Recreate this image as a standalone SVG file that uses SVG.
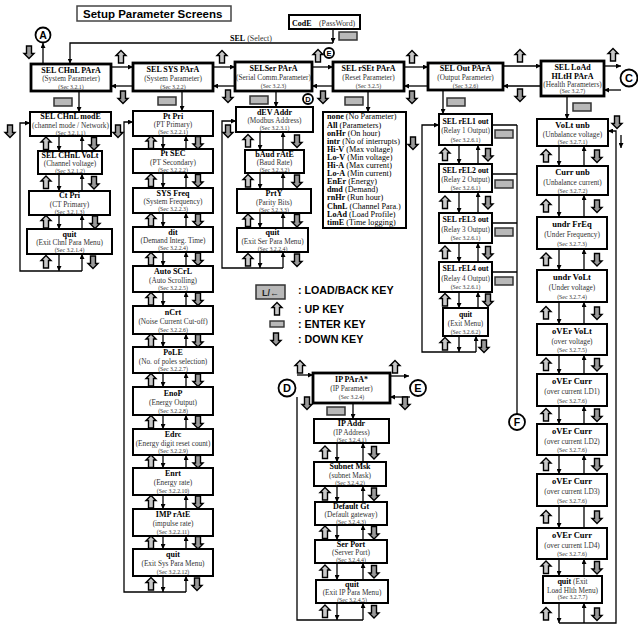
<svg xmlns="http://www.w3.org/2000/svg" width="638" height="625" viewBox="0 0 638 625">
<style>
.m{fill:#fff;stroke:#000;stroke-width:2.8}
.b{fill:#fff;stroke:#000;stroke-width:2}
text{font-family:"Liberation Serif","Times New Roman",serif}
.t{font-weight:bold;font-size:8px;text-anchor:middle}
.tt{font-weight:bold;font-size:8px;text-anchor:middle}
.s{font-size:7.3px;fill:#333;text-anchor:middle}
.c{font-size:5.8px;fill:#333;text-anchor:middle}
.ln{fill:none;stroke:#000;stroke-width:1.3}
.a{marker-end:url(#ah)}
.h{font-family:"Liberation Sans",Arial,sans-serif;font-weight:bold}
.r{font-size:7.3px}
.cir{fill:#fff;stroke:#000;stroke-width:1.8}
.o5 .t{font-size:7.7px}.o5 .s{font-size:7.2px}
.l6 .t{font-size:8.5px}
</style>
<defs>
<marker id="ah" viewBox="0 0 10 10" refX="10" refY="5" markerWidth="5" markerHeight="5" markerUnits="userSpaceOnUse" orient="auto"><path d="M0,0L10,5L0,10z" fill="#000"/></marker>
<path id="up" d="M0,-6.5L5,-1.5H2.5V6H-2.5V-1.5H-5Z" fill="#c8c8c8" stroke="#000" stroke-width="1.4"/>
<path id="dn" d="M0,6.5L5,1.5H2.5V-6H-2.5V1.5H-5Z" fill="#9a9a9a" stroke="#000" stroke-width="1.4"/>
<rect id="en" x="-9" y="-4" width="18" height="8" fill="#b8b8b8" stroke="#333" stroke-width="1.5"/>
</defs>
<rect width="638" height="625" fill="#fff"/>

<g id="title">
<rect x="77" y="6" width="154" height="15" fill="#fff" stroke="#444" stroke-width="1.5"/>
<text class="h" x="83" y="18" font-size="11.5">Setup Parameter Screens</text>
</g>

<g id="n-code">
<rect class="b" x="289" y="15" width="71" height="14"/>
<text x="292" y="25.5" font-size="8" font-weight="bold">CodE</text>
<text x="319" y="25.5" font-size="7.8" fill="#333">(PassWord)</text>
</g>
<text x="230" y="40.5" font-size="8"><tspan font-weight="bold">SEL</tspan> <tspan fill="#333">(Select)</tspan></text>

<g id="circles">
<circle class="cir" cx="43" cy="35" r="7.5"/><text class="h" x="43" y="39" font-size="10.5" text-anchor="middle">A</text>
<circle class="cir" cx="629" cy="78" r="8.5"/><text class="h" x="629" y="82" font-size="11" text-anchor="middle">C</text>
<circle class="cir" cx="329" cy="53" r="5" stroke-width="1.4"/><text class="h" x="329" y="55.8" font-size="7.5" text-anchor="middle">E</text>
<circle class="cir" cx="308" cy="99" r="5" stroke-width="1.4"/><text class="h" x="308" y="101.8" font-size="7.5" text-anchor="middle">D</text>
<circle class="cir" cx="287" cy="388" r="8.5"/><text class="h" x="287" y="392" font-size="11" text-anchor="middle">D</text>
<circle class="cir" cx="418" cy="388" r="8"/><text class="h" x="418" y="392" font-size="11" text-anchor="middle">E</text>
<circle class="cir" cx="517" cy="422" r="8"/><text class="h" x="517" y="426" font-size="10.5" text-anchor="middle">F</text>
</g>

<g id="top-row">
<g id="n-chnl"><rect class="m" x="31" y="64" width="80" height="27"/><text class="tt" x="71" y="72.5" font-size="7.6">SEL CHnL PArA</text><text class="s" x="71" y="81.3">(System Parameter)</text><text class="c" x="71" y="88.8">(Sec 3.2.1)</text></g>
<g id="n-sys"><rect class="m" x="133" y="63" width="80" height="28"/><text class="tt" x="173" y="71.6">SEL SYS PArA</text><text class="s" x="173" y="80.8">(System Parameter)</text><text class="c" x="173" y="88.5">(Sec 3.2.2)</text></g>
<g id="n-ser"><rect class="m" x="235" y="62" width="77" height="29"/><text class="tt" x="273.5" y="70.9">SELSer PArA</text><text class="s" x="273.5" y="80.3" font-size="7.1">(Serial Comm.Parameter)</text><text class="c" x="273.5" y="88.2">(Sec 3.2.3)</text></g>
<g id="n-rset"><rect class="m" x="333" y="62" width="71" height="29"/><text class="tt" x="368.5" y="70.9" font-size="7.6">SEL rSEt PArA</text><text class="s" x="368.5" y="80.3">(Reset Parameter)</text><text class="c" x="368.5" y="88.2">(Sec 3.2.5)</text></g>
<g id="n-out"><rect class="m" x="428" y="63" width="75" height="27"/><text class="tt" x="465.5" y="71.3">SEL Out PArA</text><text class="s" x="465.5" y="80.3">(Output Parameter)</text><text class="c" x="465.5" y="87.8">(Sec 3.2.6)</text></g>
<g id="n-load"><rect class="m" x="541" y="61" width="63" height="35"/><text class="tt" x="572.5" y="69.5" font-size="8.2">SEL LoAd</text><text class="tt" x="572.5" y="78.6" font-size="8.2">HLtH PArA</text><text class="s" x="572.5" y="86.5" font-size="6.8">(Health Parameters)</text><text class="c" x="572.5" y="93.3">(Sec 3.2.7)</text></g>
</g>

<g id="col-chnl">
<g id="n-modE"><rect class="b" x="30" y="112" width="81" height="24"/><text class="t" x="70.5" y="119.4">SEL CHnL modE</text><text class="s" x="70.5" y="127.8" font-size="7.2">(channel mode / Network)</text><text class="c" x="70.5" y="134.7">(Sec 3.2.1.1)</text></g>
<g id="n-chvolt"><rect class="b" x="38" y="151" width="64" height="23"/><text class="t" x="70" y="158.1" font-size="7.5">SEL CHnL VoLt</text><text class="s" x="70" y="166.3">(Channel voltage)</text><text class="c" x="70" y="173">(Sec 3.2.1.2)</text></g>
<g id="n-ctpri"><rect class="b" x="29" y="191" width="81" height="24"/><text class="t" x="69.5" y="198.4">Ct Pri</text><text class="s" x="69.5" y="206.8">(CT Primary)</text><text class="c" x="69.5" y="213.7">(Sec 3.2.1.3)</text></g>
<g id="n-quit1"><rect class="b" x="27" y="229" width="85" height="25"/><text class="t" x="69.5" y="236.7">quit</text><text class="s" x="69.5" y="245.3">(Exit Chnl Para Menu)</text><text class="c" x="69.5" y="252.4">(Sec 3.2.1.4)</text></g>
</g>

<g id="col-sys">
<g id="n-ptpri"><rect class="b" x="133" y="111" width="80" height="25"/><text class="t" x="173" y="118.7">Pt Pri</text><text class="s" x="173" y="127.3">(PT Primary)</text><text class="c" x="173" y="134.4">(Sec 3.2.2.1)</text></g>
<g id="n-ptsec"><rect class="b" x="133" y="149" width="80" height="24"/><text class="t" x="173" y="156.4">Pt SEC</text><text class="s" x="173" y="164.8">(PT Secondary)</text><text class="c" x="173" y="171.7">(Sec 3.2.2.2)</text></g>
<g id="n-sysfreq"><rect class="b" x="133" y="188" width="80" height="25"/><text class="t" x="173" y="195.7">SYS Freq</text><text class="s" x="173" y="204.3">(System Frequency)</text><text class="c" x="173" y="211.4">(Sec 3.2.2.3)</text></g>
<g id="n-dit"><rect class="b" x="133" y="227" width="80" height="25"/><text class="t" x="173" y="234.7">dit</text><text class="s" x="173" y="243.3">(Demand Integ. Time)</text><text class="c" x="173" y="250.4">(Sec 3.2.2.4)</text></g>
<g id="n-auto"><rect class="b" x="133" y="266" width="80" height="26"/><text class="t" x="173" y="274">Auto SCrL</text><text class="s" x="173" y="282.8">(Auto Scrolling)</text><text class="c" x="173" y="290.1">(Sec 3.2.2.5)</text></g>
<g id="n-ncrt"><rect class="b" x="133" y="306" width="80" height="28"/><text class="t" x="173" y="314.6">nCrt</text><text class="s" x="173" y="323.8">(Noise Current Cut-off)</text><text class="c" x="173" y="331.5">(Sec 3.2.2.6)</text></g>
<g id="n-pole"><rect class="b" x="133" y="347" width="80" height="26"/><text class="t" x="173" y="355">PoLE</text><text class="s" x="173" y="363.8">(No. of poles selection)</text><text class="c" x="173" y="371.1">(Sec 3.2.2.7)</text></g>
<g id="n-enop"><rect class="b" x="133" y="387" width="80" height="28"/><text class="t" x="173" y="395.6">EnoP</text><text class="s" x="173" y="404.8">(Energy Output)</text><text class="c" x="173" y="412.5">(Sec 3.2.2.8)</text></g>
<g id="n-edrc"><rect class="b" x="133" y="429" width="80" height="26"/><text class="t" x="173" y="437">Edrc</text><text class="s" x="173" y="445.8">(Energy digit reset count)</text><text class="c" x="173" y="453.1">(Sec 3.2.2.9)</text></g>
<g id="n-enrt"><rect class="b" x="133" y="468" width="80" height="27"/><text class="t" x="173" y="476.3">Enrt</text><text class="s" x="173" y="485.3">(Energy rate)</text><text class="c" x="173" y="492.8">(Sec 3.2.2.10)</text></g>
<g id="n-imp"><rect class="b" x="133" y="509" width="80" height="27"/><text class="t" x="173" y="517.3">IMP rAtE</text><text class="s" x="173" y="526.3">(impulse rate)</text><text class="c" x="173" y="533.8">(Sec 3.2.2.11)</text></g>
<g id="n-quit2"><rect class="b" x="133" y="549" width="80" height="27"/><text class="t" x="173" y="557.3">quit</text><text class="s" x="173" y="566.3">(Exit Sys Para Menu)</text><text class="c" x="173" y="573.8">(Sec 3.2.2.12)</text></g>
</g>

<g id="col-ser">
<g id="n-dev"><rect class="b" x="236" y="107" width="77" height="25"/><text class="t" x="274.5" y="114.7">dEV Addr</text><text class="s" x="274.5" y="123.3">(Modbus Address)</text><text class="c" x="274.5" y="130.4">(Sec 3.2.3.1)</text></g>
<g id="n-baud"><rect class="b" x="245" y="150" width="59" height="23"/><text class="t" x="274.5" y="157.1">bAud rAtE</text><text class="s" x="274.5" y="165.3">(Baud Rate)</text><text class="c" x="274.5" y="172">(Sec 3.2.3.2)</text></g>
<g id="n-prty"><rect class="b" x="237" y="189" width="74" height="24"/><text class="t" x="274" y="196.4">PrtY</text><text class="s" x="274" y="204.8">(Parity Bits)</text><text class="c" x="274" y="211.7">(Sec 3.2.3.3)</text></g>
<g id="n-quit3"><rect class="b" x="237" y="228" width="71" height="24"/><text class="t" x="272.5" y="235.4">quit</text><text class="s" x="272.5" y="243.8">(Exit Ser Para Menu)</text><text class="c" x="272.5" y="250.7">(Sec 3.2.2.4)</text></g>
</g>

<g id="n-resetlist">
<rect class="b" x="323" y="112" width="83" height="116"/>
<g class="r" transform="translate(327,0) scale(1.12,1)">
<text x="0" y="119.5"><tspan font-weight="bold">none</tspan> (No Parameter)</text>
<text x="0" y="127.6"><tspan font-weight="bold">All</tspan> (Parameters)</text>
<text x="0" y="135.7"><tspan font-weight="bold">onHr</tspan> (On hour)</text>
<text x="0" y="143.8"><tspan font-weight="bold">intr</tspan> (No of interrupts)</text>
<text x="0" y="151.9"><tspan font-weight="bold">Hi-V</tspan> (Max voltage)</text>
<text x="0" y="160"><tspan font-weight="bold">Lo-V</tspan> (Min voltage)</text>
<text x="0" y="168.1"><tspan font-weight="bold">Hi-A</tspan> (Max current)</text>
<text x="0" y="176.2"><tspan font-weight="bold">Lo-A</tspan> (Min current)</text>
<text x="0" y="184.3"><tspan font-weight="bold">EnEr</tspan> (Energy)</text>
<text x="0" y="192.4"><tspan font-weight="bold">dmd</tspan> (Demand)</text>
<text x="0" y="200.5"><tspan font-weight="bold">rnHr</tspan> (Run hour)</text>
<text x="0" y="208.6"><tspan font-weight="bold">ChnL</tspan> (Channel Para.)</text>
<text x="0" y="216.7"><tspan font-weight="bold">LoAd</tspan> (Load Profile)</text>
<text x="0" y="224.8"><tspan font-weight="bold">timE</tspan> (Time logging)</text>
</g>
</g>

<g id="col-out" class="o5">
<g id="n-rel1"><rect class="b" x="439" y="114" width="53" height="31"/><text class="t" x="465.5" y="123.5">SEL rEL1 out</text><text class="s" x="465.5" y="133.3">(Relay 1 Output)</text><text class="c" x="465.5" y="141.6">(Sec 3.2.6.1)</text></g>
<g id="n-rel2"><rect class="b" x="439" y="164" width="53" height="28"/><text class="t" x="465.5" y="172.6">SEL rEL2 out</text><text class="s" x="465.5" y="181.8">(Relay 2 Output)</text><text class="c" x="465.5" y="189.5">(Sec 3.2.6.1)</text></g>
<g id="n-rel3"><rect class="b" x="439" y="213" width="53" height="30"/><text class="t" x="465.5" y="222.2">SEL rEL3 out</text><text class="s" x="465.5" y="231.8">(Relay 3 Output)</text><text class="c" x="465.5" y="239.9">(Sec 3.2.6.1)</text></g>
<g id="n-rel4"><rect class="b" x="439" y="262" width="53" height="30"/><text class="t" x="465.5" y="271.2">SEL rEL4 out</text><text class="s" x="465.5" y="280.8">(Relay 4 Output)</text><text class="c" x="465.5" y="288.9">(Sec 3.2.6.1)</text></g>
<g id="n-quit5"><rect class="b" x="443" y="308" width="45" height="28"/><text class="t" x="465.5" y="316.6">quit</text><text class="s" x="465.5" y="325.8">(Exit Menu)</text><text class="c" x="465.5" y="333.5">(Sec 3.2.6.2)</text></g>
</g>

<g id="col-load" class="l6">
<g id="n-vunb"><rect class="b" x="537" y="119" width="71" height="27"/><text class="t" x="572.5" y="127.7">VoLt unb</text><text class="s" x="572.5" y="136.8">(Unbalance voltage)</text><text class="c" x="572.5" y="144.3">(Sec 3.2.7.1)</text></g>
<g id="n-cunb"><rect class="b" x="537" y="166" width="71" height="29"/><text class="t" x="572.5" y="175.3">Curr unb</text><text class="s" x="572.5" y="184.8">(Unbalance current)</text><text class="c" x="572.5" y="192.7">(Sec 3.2.7.2)</text></g>
<g id="n-ufreq"><rect class="b" x="537" y="217" width="70" height="32"/><text class="t" x="572" y="227.2">undr FrEq</text><text class="s" x="572" y="237.3">(Under Frequency)</text><text class="c" x="572" y="245.8">(Sec 3.2.7.3)</text></g>
<g id="n-uvolt"><rect class="b" x="537" y="270" width="70" height="32"/><text class="t" x="572" y="280.2">undr VoLt</text><text class="s" x="572" y="290.3">(Under voltage)</text><text class="c" x="572" y="298.8">(Sec 3.2.7.4)</text></g>
<g id="n-ovolt"><rect class="b" x="537" y="324" width="70" height="31"/><text class="t" x="572" y="333.9">oVEr VoLt</text><text class="s" x="572" y="343.8">(over voltage)</text><text class="c" x="572" y="352.1">(Sec 3.2.7.5)</text></g>
<g id="n-oc1"><rect class="b" x="537" y="374" width="70" height="32"/><text class="t" x="572" y="384.2">oVEr Curr</text><text class="s" x="572" y="394.3">(over current LD1)</text><text class="c" x="572" y="402.8">(Sec 3.2.7.6)</text></g>
<g id="n-oc2"><rect class="b" x="537" y="424" width="70" height="31"/><text class="t" x="572" y="433.9">oVEr Curr</text><text class="s" x="572" y="443.8">(over current LD2)</text><text class="c" x="572" y="452.1">(Sec 3.2.7.6)</text></g>
<g id="n-oc3"><rect class="b" x="537" y="474" width="70" height="32"/><text class="t" x="572" y="484.2">oVEr Curr</text><text class="s" x="572" y="494.3">(over current LD3)</text><text class="c" x="572" y="502.8">(Sec 3.2.7.6)</text></g>
<g id="n-oc4"><rect class="b" x="537" y="528" width="70" height="31"/><text class="t" x="572" y="537.9">oVEr Curr</text><text class="s" x="572" y="547.8">(over current LD4)</text><text class="c" x="572" y="556.1">(Sec 3.2.7.6)</text></g>
<g id="n-quit6"><rect class="b" x="543" y="576" width="59" height="27"/><text class="s" x="572.5" y="584.3"><tspan font-weight="bold" fill="#000" font-size="8">quit</tspan> (Exit</text><text class="s" x="572.5" y="592.6">Load Hlth Menu)</text><text class="c" x="572.5" y="599.4">(Sec 3.2.7.7)</text></g>
</g>

<g id="col-ip">
<g id="n-ip"><rect class="m" x="313" y="373" width="77" height="30"/><text class="t" x="351.5" y="382.2">IP PArA*</text><text class="s" x="351.5" y="390.6" font-size="7">(IP Parameter)</text><text class="c" x="351.5" y="398.5">(Sec 3.2.4)</text></g>
<g id="n-ipaddr"><rect class="b" x="314" y="419" width="75" height="24"/><text class="t" x="351.5" y="426.4">IP Addr</text><text class="s" x="351.5" y="434.8">(IP Address)</text><text class="c" x="351.5" y="441.7">(Sec 3.2.4.1)</text></g>
<g id="n-subnet"><rect class="b" x="314" y="462" width="72" height="24"/><text class="t" x="350" y="469.4">Subnet Msk</text><text class="s" x="350" y="477.8">(subnet Mask)</text><text class="c" x="350" y="484.7">(Sec 3.2.4.2)</text></g>
<g id="n-defgt"><rect class="b" x="315" y="502" width="72" height="23"/><text class="t" x="351" y="509.1">Default Gt</text><text class="s" x="351" y="517.3">(Default gateway)</text><text class="c" x="351" y="524">(Sec 3.2.4.3)</text></g>
<g id="n-serport"><rect class="b" x="315" y="540" width="72" height="23"/><text class="t" x="351" y="547.1">Ser Port</text><text class="s" x="351" y="555.3">(Server Port)</text><text class="c" x="351" y="562">(Sec 3.2.4.4)</text></g>
<g id="n-quit7"><rect class="b" x="316" y="580" width="72" height="23"/><text class="t" x="352" y="587.1">quit</text><text class="s" x="352" y="595.3">(Exit IP Para Menu)</text><text class="c" x="352" y="602">(Sec 3.2.4.5)</text></g>
</g>

<g id="connectors">
<path class="ln a" d="M333,29V43"/>
<path class="ln a" d="M333,43H70V63.5"/>
<path class="ln a" d="M43,64V43"/>
<path class="ln a" d="M111,67H133"/><path class="ln a" d="M133,86H111"/>
<path class="ln a" d="M213,67H235"/><path class="ln a" d="M235,86H213"/>
<path class="ln a" d="M312,67H333"/><path class="ln a" d="M333,86H312"/>
<path class="ln a" d="M404,67H428"/><path class="ln a" d="M428,86H404"/>
<path class="ln a" d="M503,66H541"/><path class="ln a" d="M541,86H503"/>
<path class="ln a" d="M604,66H621"/><path class="ln a" d="M621,90H604"/>
<path class="ln a" d="M79,91V112"/><path class="ln a" d="M182,91V111"/><path class="ln a" d="M276,91V107"/>
<path class="ln a" d="M368,91V112"/><path class="ln a" d="M443,90V114"/><path class="ln a" d="M567,96V119"/>

<path class="ln a" d="M59,136V151"/><path class="ln a" d="M82,151V136"/>
<path class="ln a" d="M59,174V191"/><path class="ln a" d="M82,191V174"/>
<path class="ln a" d="M59,215V229"/><path class="ln a" d="M82,229V215"/>
<path class="ln a" d="M59,254V271"/><path class="ln a" d="M82,271V254"/>
<path class="ln a" d="M82,271H20V123H30"/>

<path class="ln a" d="M163,136V149"/><path class="ln a" d="M186,149V136"/>
<path class="ln a" d="M163,173V188"/><path class="ln a" d="M186,188V173"/>
<path class="ln a" d="M163,213V227"/><path class="ln a" d="M186,227V213"/>
<path class="ln a" d="M163,252V266"/><path class="ln a" d="M186,266V252"/>
<path class="ln a" d="M163,292V306"/><path class="ln a" d="M186,306V292"/>
<path class="ln a" d="M163,334V347"/><path class="ln a" d="M186,347V334"/>
<path class="ln a" d="M163,373V387"/><path class="ln a" d="M186,387V373"/>
<path class="ln a" d="M163,415V429"/><path class="ln a" d="M186,429V415"/>
<path class="ln a" d="M163,455V468"/><path class="ln a" d="M186,468V455"/>
<path class="ln a" d="M163,495V509"/><path class="ln a" d="M186,509V495"/>
<path class="ln a" d="M163,536V549"/><path class="ln a" d="M186,549V536"/>
<path class="ln a" d="M163,576V592"/><path class="ln a" d="M186,592V576"/>
<path class="ln a" d="M186,592H124V122H133"/>

<path class="ln a" d="M260,132V150"/><path class="ln a" d="M283,150V132"/>
<path class="ln a" d="M260,173V189"/><path class="ln a" d="M283,189V173"/>
<path class="ln a" d="M260,213V228"/><path class="ln a" d="M283,228V213"/>
<path class="ln a" d="M260,252V268"/><path class="ln a" d="M283,268V252"/>
<path class="ln a" d="M283,268H222V121H236"/>

<path class="ln a" d="M459,145V164"/><path class="ln a" d="M478,164V145"/>
<path class="ln a" d="M459,192V213"/><path class="ln a" d="M478,213V192"/>
<path class="ln a" d="M459,243V262"/><path class="ln a" d="M478,262V243"/>
<path class="ln a" d="M459,292V308"/><path class="ln a" d="M478,308V292"/>
<path class="ln a" d="M459,336V352"/><path class="ln a" d="M476,352V336"/>
<path class="ln a" d="M476,352H422V125H439"/>
<path class="ln" d="M517,125V414M492,125H517M492,174H517M492,223H517M492,272H517"/>

<path class="ln a" d="M559,146V166"/><path class="ln a" d="M584,166V146"/>
<path class="ln a" d="M559,195V217"/><path class="ln a" d="M584,217V195"/>
<path class="ln a" d="M559,249V270"/><path class="ln a" d="M584,270V249"/>
<path class="ln a" d="M559,302V324"/><path class="ln a" d="M584,324V302"/>
<path class="ln a" d="M559,355V374"/><path class="ln a" d="M584,374V355"/>
<path class="ln a" d="M559,406V424"/><path class="ln a" d="M584,424V406"/>
<path class="ln a" d="M559,455V474"/><path class="ln a" d="M584,474V455"/>
<path class="ln a" d="M559,506V528"/><path class="ln" d="M584,528V506"/>
<path class="ln a" d="M559,559V576"/><path class="ln a" d="M584,576V559"/>
<path class="ln a" d="M559,603V623"/><path class="ln a" d="M584,623V603"/>
<path class="ln a" d="M559,623H616V131H608"/>
<path class="ln a" d="M621,135V148"/>

<path class="ln a" d="M297,375H313"/>
<path class="ln a" d="M390,376H409"/><path class="ln a" d="M410,397H390"/>
<path class="ln a" d="M353,403V419"/>
<path class="ln a" d="M337,443V462"/><path class="ln a" d="M363,462V443"/>
<path class="ln a" d="M337,486V502"/><path class="ln a" d="M363,502V486"/>
<path class="ln a" d="M337,525V540"/><path class="ln a" d="M363,540V525"/>
<path class="ln a" d="M337,563V580"/><path class="ln a" d="M363,580V563"/>
<path class="ln a" d="M337,603V620"/><path class="ln a" d="M363,620V603"/>
<path class="ln" d="M363,620H297V397"/>
</g>

<g id="keys">
<use href="#dn" x="29" y="52"/>
<use href="#up" x="121" y="57"/><use href="#dn" x="123" y="97"/>
<use href="#up" x="222" y="57"/><use href="#dn" x="228" y="96"/>
<use href="#up" x="318" y="56"/><use href="#dn" x="323" y="97"/>
<use href="#up" x="412" y="57"/><use href="#dn" x="412" y="97"/>
<use href="#up" x="520" y="56"/><use href="#dn" x="520" y="95"/>
<use href="#up" x="613" y="55"/>
<use href="#en" x="348" y="36"/>
<use href="#en" x="63" y="102"/><use href="#en" x="167" y="101"/><use href="#en" x="259" y="100"/>
<use href="#en" x="354" y="101"/><use href="#en" x="456" y="102"/><use href="#en" x="582" y="107"/>
<use href="#dn" x="10" y="131"/><use href="#dn" x="118" y="131"/><use href="#dn" x="228" y="131"/>
<use href="#dn" x="413" y="143"/><use href="#dn" x="617" y="122"/>

<use href="#up" x="46" y="143.5"/><use href="#dn" x="94" y="143.5"/>
<use href="#up" x="46" y="182.5"/><use href="#dn" x="94" y="182.5"/>
<use href="#up" x="46" y="222"/><use href="#dn" x="95" y="222"/>
<use href="#up" x="46" y="262"/><use href="#dn" x="93" y="262"/>

<use href="#up" x="151" y="142.5"/><use href="#dn" x="198" y="142.5"/>
<use href="#up" x="151" y="180.5"/><use href="#dn" x="198" y="180.5"/>
<use href="#up" x="151" y="220"/><use href="#dn" x="198" y="220"/>
<use href="#up" x="151" y="259"/><use href="#dn" x="198" y="259"/>
<use href="#up" x="151" y="299"/><use href="#dn" x="198" y="299"/>
<use href="#up" x="151" y="340.5"/><use href="#dn" x="198" y="340.5"/>
<use href="#up" x="151" y="380"/><use href="#dn" x="198" y="380"/>
<use href="#up" x="151" y="422"/><use href="#dn" x="198" y="422"/>
<use href="#up" x="151" y="461.5"/><use href="#dn" x="198" y="461.5"/>
<use href="#up" x="151" y="502"/><use href="#dn" x="198" y="502"/>
<use href="#up" x="151" y="542.5"/><use href="#dn" x="198" y="542.5"/>
<use href="#up" x="151" y="584"/><use href="#dn" x="197" y="584"/>

<use href="#up" x="248" y="141"/><use href="#dn" x="297" y="141"/>
<use href="#up" x="248" y="181"/><use href="#dn" x="297" y="181"/>
<use href="#up" x="248" y="220.5"/><use href="#dn" x="297" y="220.5"/>
<use href="#up" x="248" y="260"/><use href="#dn" x="297" y="260"/>

<use href="#up" x="445" y="154.5"/><use href="#dn" x="488" y="154.5"/>
<use href="#up" x="445" y="202.5"/><use href="#dn" x="488" y="202.5"/>
<use href="#up" x="445" y="252.5"/><use href="#dn" x="488" y="252.5"/>
<use href="#up" x="445" y="300"/><use href="#dn" x="488" y="300"/>
<use href="#up" x="445" y="344"/><use href="#dn" x="484" y="346"/>
<use href="#en" x="504" y="134"/><use href="#en" x="504" y="184"/><use href="#en" x="504" y="232"/><use href="#en" x="504" y="281"/>

<use href="#up" x="546" y="156"/><use href="#dn" x="597" y="156"/>
<use href="#up" x="546" y="206"/><use href="#dn" x="597" y="206"/>
<use href="#up" x="546" y="259.5"/><use href="#dn" x="597" y="259.5"/>
<use href="#up" x="546" y="313"/><use href="#dn" x="597" y="313"/>
<use href="#up" x="546" y="364.5"/><use href="#dn" x="597" y="364.5"/>
<use href="#up" x="546" y="415"/><use href="#dn" x="597" y="415"/>
<use href="#up" x="546" y="464.5"/><use href="#dn" x="597" y="464.5"/>
<use href="#up" x="546" y="517"/><use href="#dn" x="597" y="517"/>
<use href="#up" x="546" y="567.5"/><use href="#dn" x="597" y="567.5"/>
<use href="#up" x="546" y="614"/><use href="#dn" x="597" y="614"/>

<use href="#up" x="300" y="367"/><use href="#up" x="395" y="367"/>
<use href="#dn" x="307" y="403"/><use href="#dn" x="405" y="403"/>
<use href="#en" x="336" y="411"/>
<use href="#up" x="325" y="452.5"/><use href="#dn" x="374" y="452.5"/>
<use href="#up" x="325" y="494"/><use href="#dn" x="374" y="494"/>
<use href="#up" x="325" y="532.5"/><use href="#dn" x="374" y="532.5"/>
<use href="#up" x="325" y="571.5"/><use href="#dn" x="374" y="571.5"/>
<use href="#up" x="325" y="611.5"/><use href="#dn" x="374" y="611.5"/>
</g>

<g id="legend">
<rect x="256" y="285" width="29" height="14" fill="#b8b8b8" stroke="#333" stroke-width="1.5"/>
<text class="h" x="270.5" y="295.5" font-size="9" text-anchor="middle" fill="#222">L/←</text>
<text class="h" x="298" y="294" font-size="10.7">: LOAD/BACK KEY</text>
<use href="#up" x="277" y="309"/>
<text class="h" x="298" y="313" font-size="10.7">: UP KEY</text>
<rect x="270" y="321" width="14" height="6" fill="#b8b8b8" stroke="#333" stroke-width="1.4"/>
<text class="h" x="298" y="328" font-size="10.7">: ENTER KEY</text>
<use href="#dn" x="276" y="339"/>
<text class="h" x="298" y="343" font-size="10.7">: DOWN KEY</text>
</g>
</svg>
